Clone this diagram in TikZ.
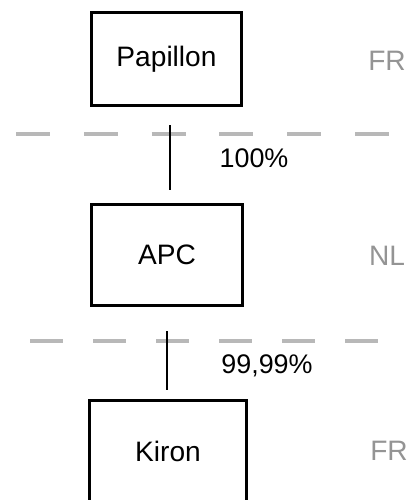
\documentclass[tikz,border=0pt]{standalone}
\usepackage{fontspec}
\setmainfont{Liberation Sans}

\tikzstyle{entity}=[draw,line width=1.7pt,inner sep=0pt,font=\fontsize{16}{19}\selectfont]
\tikzstyle{country}=[text=black!42,inner sep=0pt,font=\fontsize{16}{19}\selectfont]
\tikzstyle{share}=[inner sep=0pt,font=\fontsize{15.3}{18}\selectfont]
\tikzstyle{frontier}=[draw=black!28,line width=2.3pt]
\tikzstyle{link}=[draw,line width=1.6pt]

\begin{document}
\begin{tikzpicture}[x=0.02cm,y=-0.02cm]
        \useasboundingbox (0,0) rectangle (416,500);

        \draw (166.5,59) node[entity,minimum width=3.02cm,minimum height=1.88cm](pap){Papillon};
        \draw (167,255)  node[entity,minimum width=3.04cm,minimum height=2.04cm](apc){APC};
        \draw (168,451)  node[entity,minimum width=3.16cm,minimum height=2.04cm](kir){Kiron};
        %
        \draw (387,61)  node[country](c1){FR};
        \draw (387,256) node[country](c2){NL};
        \draw (389,451) node[country](c3){FR};
        %
        \draw[frontier,dash pattern=on 19.3pt off 19.3pt] (16,134) -- (395,134);
        \draw[frontier,dash pattern=on 18.8pt off 17.1pt] (30,341) -- (381,341);
        %
        \coordinate (a1) at (170,125);
        \coordinate (b1) at (170,190);
        \coordinate (a2) at (167,331);
        \coordinate (b2) at (167,390);
        \path[link] (a1) -- (b1);
        \path[link] (a2) -- (b2);
        %
        \draw (254,158) node[share](s1){100\%};
        \draw (267,366) node[share](s2){99,99\%};
\end{tikzpicture}
\end{document}
